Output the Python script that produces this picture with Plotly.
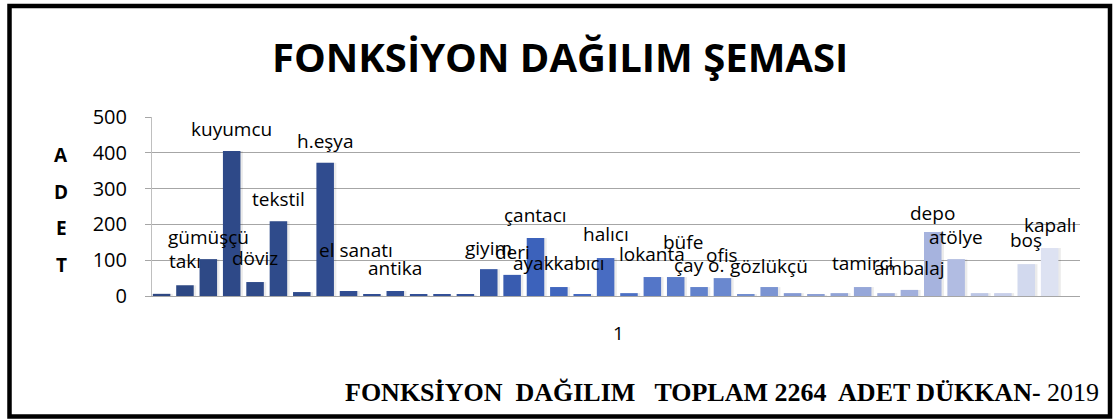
import plotly.graph_objects as go

# Shop counts per function (one bar per function, left to right)
counts = [6, 30, 103, 405, 39, 209, 11, 372, 14, 3, 14, 3, 3, 3,
          75, 59, 162, 25, 5, 106, 8, 53, 53, 25, 50, 5, 25, 8,
          3, 8, 25, 8, 17, 179, 103, 8, 8, 89, 134]

# Function names shown above their bars ("" = no label)
names = ["", "takı", "gümüşçü", "kuyumcu", "döviz", "tekstil", "", "h.eşya",
         "el sanatı", "", "antika", "", "", "",
         "giyim", "deri", "çantacı", "ayakkabıcı", "", "halıcı", "", "lokanta",
         "büfe", "çay o.", "ofis", "", "gözlükçü", "",
         "", "", "tamirci", "", "ambalaj", "depo", "atölye", "", "", "boş", "kapalı"]

# Height (in axis units) at which each name label sits
label_y = [0, 97, 164, 467, 105, 272, 0, 433,
           128, 0, 78, 0, 0, 0,
           133, 122, 225, 92, 0, 172, 0, 117,
           150, 86, 114, 0, 83, 0,
           0, 0, 92, 0, 78, 233, 164, 0, 0, 156, 197]
label_dx = [0, 0, 0, 0, 0, 0, 0, 0,
            0.3, 0, 0, 0, 0, 0,
            0, 0, 0, 0, 0, 0, 0, 0,
            0.3, 0, 0, 0, 0, 0,
            0, 0, 0, 0, 0, 0, 0, 0, 0, 0, 0]

y_ticks = [0, 100, 200, 300, 400, 500]

title_text = "FONKSİYON DAĞILIM ŞEMASI"
footer_bold = "FONKSİYON  DAĞILIM   TOPLAM 2264  ADET DÜKKAN-"
footer_year = "2019"
axis_letters = ["A", "D", "E", "T"]


def hex_to_rgb(h):
    h = h.lstrip("#")
    return tuple(int(h[i:i + 2], 16) for i in (0, 2, 4))


# Monochrome blue ramp from dark navy to pale lavender
stops = [(0, "#2D4782"), (13, "#33519A"), (16, "#3C62BB"), (20, "#4C70C5"),
         (24, "#6A88CF"), (28, "#8C9FD5"), (33, "#A6B3DE"), (38, "#DDE2F2")]


def ramp(i):
    for (a, ca), (b, cb) in zip(stops, stops[1:]):
        if a <= i <= b:
            t = (i - a) / (b - a) if b > a else 0
            r1, g1, b1 = hex_to_rgb(ca)
            r2, g2, b2 = hex_to_rgb(cb)
            return "rgb(%d,%d,%d)" % (round(r1 + (r2 - r1) * t),
                                      round(g1 + (g2 - g1) * t),
                                      round(b1 + (b2 - b1) * t))
    return stops[-1][1]


xs = list(range(len(counts)))
colors = [ramp(i) for i in xs]

# plot-area geometry in pixels, used to place page-level texts
PL, PR, PT, PB = 152, 1080, 117, 296


def px(x):
    return (x - PL) / (PR - PL)


def py(y):
    return (PB - y) / (PB - PT)


fig = go.Figure()

# soft drop shadow behind each bar
fig.add_trace(go.Bar(
    x=xs, y=counts, width=0.80, offset=-0.32,
    marker=dict(color="rgba(0,0,0,0.08)", line=dict(width=0)),
    hoverinfo="skip", showlegend=False,
))

fig.add_trace(go.Bar(
    x=xs, y=counts, width=0.75,
    marker=dict(color=colors, line=dict(width=0)),
    showlegend=False,
))

label_font = dict(family="Open Sans, Noto Sans, sans-serif", size=19, color="#000000")
for i, (nm, ly, dx) in enumerate(zip(names, label_y, label_dx)):
    if nm:
        fig.add_annotation(x=i + dx, y=ly, xref="x", yref="y", text=nm,
                           showarrow=False, font=label_font,
                           xanchor="center", yanchor="middle")

# category label under the axis
fig.add_annotation(x=px(618), y=py(333), xref="paper", yref="paper", text="1",
                   showarrow=False, xanchor="center", yanchor="middle",
                   font=dict(family="Open Sans, sans-serif", size=19, color="#000000"))

# vertical "ADET" axis caption, one letter per line
for k, letter in enumerate(axis_letters):
    fig.add_annotation(x=px(61), y=py(155 + 36.7 * k), xref="paper", yref="paper",
                       text="<b>%s</b>" % letter, showarrow=False,
                       xanchor="center", yanchor="middle",
                       font=dict(family="Open Sans, sans-serif", size=19, color="#000000"))

# title
fig.add_annotation(x=px(560), y=py(57), xref="paper", yref="paper",
                   text="<b>%s</b>" % title_text, showarrow=False,
                   xanchor="center", yanchor="middle",
                   font=dict(family="Open Sans, sans-serif", size=40, color="#000000"))

# footer line
fig.add_annotation(x=px(1101), y=py(392), xref="paper", yref="paper",
                   text="<b>%s</b> %s" % (footer_bold, footer_year), showarrow=False,
                   xanchor="right", yanchor="middle",
                   font=dict(family="Liberation Serif, Times New Roman, serif", size=26,
                             color="#000000"))

# outer frame
fig.add_shape(type="rect", xref="paper", yref="paper",
              x0=px(9.5), x1=px(1110), y0=py(416.5), y1=py(6),
              line=dict(color="#000000", width=4.5), fillcolor="rgba(0,0,0,0)",
              layer="above")

fig.update_layout(
    width=1113, height=419,
    margin=dict(l=PL, r=1113 - PR, t=PT, b=419 - PB),
    paper_bgcolor="#FFFFFF", plot_bgcolor="#FFFFFF",
    bargap=0.25,
    xaxis=dict(range=[-0.41, 39.3], showticklabels=False, ticks="",
               showgrid=False, zeroline=False, showline=True,
               linecolor="#A6A6A6", linewidth=1),
    yaxis=dict(range=[0, 500], tickvals=y_ticks, ticks="outside", ticklen=6,
               tickcolor="#A6A6A6", ticklabelstandoff=14,
               showgrid=True, gridcolor="#A6A6A6", gridwidth=1,
               zeroline=False, showline=True, linecolor="#BFBFBF", linewidth=1,
               tickfont=dict(family="Open Sans, sans-serif", size=20, color="#000000")),
    font=dict(family="Open Sans, sans-serif"),
)

fig.write_html("out.html")
